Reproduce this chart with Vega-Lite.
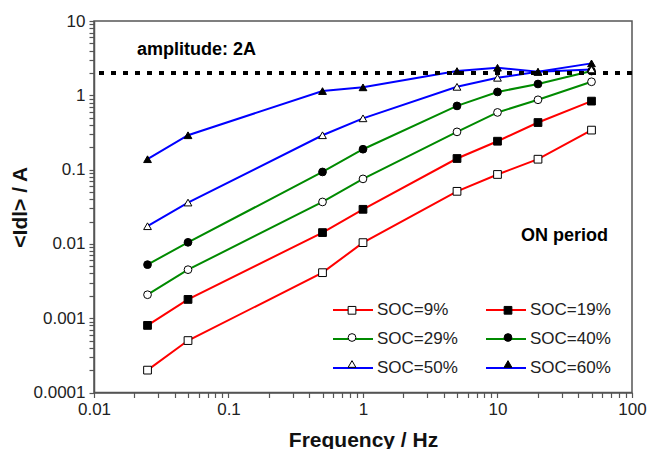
{
  "$schema": "https://vega.github.io/schema/vega-lite/v6.json",
  "width": 538,
  "height": 371.5,
  "autosize": {"type": "none"},
  "padding": {"left": 94, "top": 21, "right": 19, "bottom": 56.5},
  "background": "white",
  "config": {
    "font": "Liberation Sans",
    "view": {"stroke": "#555", "strokeWidth": 1.5},
    "axis": {
      "grid": false, "domainColor": "#555", "domainWidth": 1.5,
      "tickColor": "#555", "tickWidth": 1.2, "tickSize": 5,
      "labelFont": "Liberation Sans", "labelFontSize": 17, "labelColor": "#222",
      "labelFlush": false, "labelOverlap": false, "labelPadding": 4,
      "titleFont": "Liberation Sans", "titleFontSize": 21, "titleFontWeight": "bold", "titleColor": "#111"
    }
  },
  "data": {"values": [
    {"f": 0.025, "series": "SOC=9%", "symbol": "SOC=9%", "I": 0.0002},
    {"f": 0.05, "series": "SOC=9%", "symbol": "SOC=9%", "I": 0.0005},
    {"f": 0.5, "series": "SOC=9%", "symbol": "SOC=9%", "I": 0.0041},
    {"f": 1, "series": "SOC=9%", "symbol": "SOC=9%", "I": 0.0104},
    {"f": 5, "series": "SOC=9%", "symbol": "SOC=9%", "I": 0.051},
    {"f": 10, "series": "SOC=9%", "symbol": "SOC=9%", "I": 0.086},
    {"f": 20, "series": "SOC=9%", "symbol": "SOC=9%", "I": 0.138},
    {"f": 50, "series": "SOC=9%", "symbol": "SOC=9%", "I": 0.34},
    {"f": 0.025, "series": "SOC=19%", "symbol": "SOC=19%", "I": 0.0008},
    {"f": 0.05, "series": "SOC=19%", "symbol": "SOC=19%", "I": 0.00179},
    {"f": 0.5, "series": "SOC=19%", "symbol": "SOC=19%", "I": 0.0142},
    {"f": 1, "series": "SOC=19%", "symbol": "SOC=19%", "I": 0.0292},
    {"f": 5, "series": "SOC=19%", "symbol": "SOC=19%", "I": 0.141},
    {"f": 10, "series": "SOC=19%", "symbol": "SOC=19%", "I": 0.241},
    {"f": 20, "series": "SOC=19%", "symbol": "SOC=19%", "I": 0.43},
    {"f": 50, "series": "SOC=19%", "symbol": "SOC=19%", "I": 0.835},
    {"f": 0.025, "series": "SOC=29%", "symbol": "SOC=29%", "I": 0.00207},
    {"f": 0.05, "series": "SOC=29%", "symbol": "SOC=29%", "I": 0.0045},
    {"f": 0.5, "series": "SOC=29%", "symbol": "SOC=29%", "I": 0.0367},
    {"f": 1, "series": "SOC=29%", "symbol": "SOC=29%", "I": 0.075},
    {"f": 5, "series": "SOC=29%", "symbol": "SOC=29%", "I": 0.322},
    {"f": 10, "series": "SOC=29%", "symbol": "SOC=29%", "I": 0.588},
    {"f": 20, "series": "SOC=29%", "symbol": "SOC=29%", "I": 0.87},
    {"f": 50, "series": "SOC=29%", "symbol": "SOC=29%", "I": 1.52},
    {"f": 0.025, "series": "SOC=40%", "symbol": "SOC=40%", "I": 0.00526},
    {"f": 0.05, "series": "SOC=40%", "symbol": "SOC=40%", "I": 0.0105},
    {"f": 0.5, "series": "SOC=40%", "symbol": "SOC=40%", "I": 0.093},
    {"f": 1, "series": "SOC=40%", "symbol": "SOC=40%", "I": 0.188},
    {"f": 5, "series": "SOC=40%", "symbol": "SOC=40%", "I": 0.72},
    {"f": 10, "series": "SOC=40%", "symbol": "SOC=40%", "I": 1.11},
    {"f": 20, "series": "SOC=40%", "symbol": "SOC=40%", "I": 1.42},
    {"f": 50, "series": "SOC=40%", "symbol": "SOC=40%", "I": 2.12},
    {"f": 0.025, "series": "SOC=50%", "symbol": "SOC=50%", "I": 0.0173},
    {"f": 0.05, "series": "SOC=50%", "symbol": "SOC=50%", "I": 0.036},
    {"f": 0.5, "series": "SOC=50%", "symbol": "SOC=50%", "I": 0.29},
    {"f": 1, "series": "SOC=50%", "symbol": "SOC=50%", "I": 0.49},
    {"f": 5, "series": "SOC=50%", "symbol": "SOC=50%", "I": 1.3},
    {"f": 10, "series": "SOC=50%", "symbol": "SOC=50%", "I": 1.72},
    {"f": 20, "series": "SOC=50%", "symbol": "SOC=50%", "I": 2.07},
    {"f": 50, "series": "SOC=50%", "symbol": "SOC=50%", "I": 2.23},
    {"f": 0.025, "series": "SOC=60%", "symbol": "SOC=60%", "I": 0.138},
    {"f": 0.05, "series": "SOC=60%", "symbol": "SOC=60%", "I": 0.29},
    {"f": 0.5, "series": "SOC=60%", "symbol": "SOC=60%", "I": 1.14},
    {"f": 1, "series": "SOC=60%", "symbol": "SOC=60%", "I": 1.28},
    {"f": 5, "series": "SOC=60%", "symbol": "SOC=60%", "I": 2.12},
    {"f": 10, "series": "SOC=60%", "symbol": "SOC=60%", "I": 2.35},
    {"f": 20, "series": "SOC=60%", "symbol": "SOC=60%", "I": 2.07},
    {"f": 50, "series": "SOC=60%", "symbol": "SOC=60%", "I": 2.69}
  ]},
  "layer": [
    {
      "mark": {"type": "line", "strokeWidth": 2},
      "encoding": {
        "x": {"field": "f", "type": "quantitative",
          "scale": {"type": "log", "domain": [0.01, 100], "nice": false},
          "axis": {"title": "Frequency / Hz", "titleBaseline": "alphabetic", "titleY": 53.5,
            "values": [0.01,0.02,0.03,0.04,0.05,0.06,0.07,0.08,0.09,0.1,0.2,0.3,0.4,0.5,0.6,0.7,0.8,0.9,1,2,3,4,5,6,7,8,9,10,20,30,40,50,60,70,80,90,100],
            "labelExpr": "abs(log(datum.value)/LN10 - round(log(datum.value)/LN10)) < 1e-6 ? format(datum.value, '~g') : ''"}},
        "y": {"field": "I", "type": "quantitative",
          "scale": {"type": "log", "domain": [0.0001, 10], "nice": false},
          "axis": {"title": "<Idl> / A", "titleBaseline": "alphabetic", "titleX": -67.5,
            "values": [0.0001,0.0002,0.0003,0.0004,0.0005,0.0006,0.0007,0.0008,0.0009,0.001,0.002,0.003,0.004,0.005,0.006,0.007,0.008,0.009,0.01,0.02,0.03,0.04,0.05,0.06,0.07,0.08,0.09,0.1,0.2,0.3,0.4,0.5,0.6,0.7,0.8,0.9,1,2,3,4,5,6,7,8,9,10],
            "labelExpr": "abs(log(datum.value)/LN10 - round(log(datum.value)/LN10)) < 1e-6 ? format(datum.value, '~g') : ''"}},
        "color": {"field": "series", "type": "nominal",
          "scale": {"domain": ["SOC=9%","SOC=19%","SOC=29%","SOC=40%","SOC=50%","SOC=60%"],
            "range": ["#ff0000","#ff0000","#008a00","#008a00","#0000ff","#0000ff"]},
          "legend": {"title": null, "orient": "none", "direction": "horizontal", "legendX": 238, "legendY": 268, "columns": 2,
            "columnPadding": 24, "rowPadding": -4.5, "symbolType": "M-1,0H1", "symbolSize": 1600,
            "symbolStrokeWidth": 2, "labelFont": "Liberation Sans", "labelFontSize": 17,
            "labelOffset": 3, "labelColor": "#222"}},
        "order": {"field": "f", "type": "quantitative"}
      }
    },
    {
      "mark": {"type": "rule", "strokeDash": [5, 7], "strokeWidth": 2.6, "color": "black"},
      "encoding": {"y": {"datum": 2}}
    },
    {
      "mark": {"type": "point", "filled": true, "strokeWidth": 1, "opacity": 1},
      "encoding": {
        "x": {"field": "f", "type": "quantitative"},
        "y": {"field": "I", "type": "quantitative"},
        "shape": {"field": "symbol", "type": "nominal",
          "scale": {"domain": ["SOC=9%","SOC=19%","SOC=29%","SOC=40%","SOC=50%","SOC=60%","none"],
            "range": ["square","square","circle","circle","triangle-up","triangle-up","circle"]},
          "legend": {"title": null, "orient": "none", "direction": "horizontal", "legendX": 253.5, "legendY": 284.5, "columns": 2,
            "values": ["SOC=9%","SOC=19%","SOC=29%","SOC=40%","SOC=50%","SOC=60%"],
            "columnPadding": 143, "rowPadding": 14.5, "symbolStrokeWidth": 1,
            "labelFontSize": 1, "labelOffset": 0, "labelExpr": "''", "labelOpacity": 0}},
        "fill": {"field": "symbol", "type": "nominal",
          "scale": {"domain": ["SOC=9%","SOC=19%","SOC=29%","SOC=40%","SOC=50%","SOC=60%","none"],
            "range": ["white","black","white","black","white","black","white"]},
          "legend": {"title": null, "orient": "none", "direction": "horizontal", "legendX": 253.5, "legendY": 284.5, "columns": 2,
            "values": ["SOC=9%","SOC=19%","SOC=29%","SOC=40%","SOC=50%","SOC=60%"],
            "columnPadding": 143, "rowPadding": 14.5, "symbolStrokeWidth": 1,
            "labelFontSize": 1, "labelOffset": 0, "labelExpr": "''", "labelOpacity": 0}},
        "stroke": {"field": "symbol", "type": "nominal",
          "scale": {"domain": ["SOC=9%","SOC=19%","SOC=29%","SOC=40%","SOC=50%","SOC=60%","none"],
            "range": ["black","black","black","black","black","black","black"]},
          "legend": {"title": null, "orient": "none", "direction": "horizontal", "legendX": 253.5, "legendY": 284.5, "columns": 2,
            "values": ["SOC=9%","SOC=19%","SOC=29%","SOC=40%","SOC=50%","SOC=60%"],
            "columnPadding": 143, "rowPadding": 14.5, "symbolStrokeWidth": 1,
            "labelFontSize": 1, "labelOffset": 0, "labelExpr": "''", "labelOpacity": 0}},
        "size": {"field": "symbol", "type": "nominal",
          "scale": {"domain": ["SOC=9%","SOC=19%","SOC=29%","SOC=40%","SOC=50%","SOC=60%","none"],
            "range": [60, 60, 48, 48, 90, 90, 48]},
          "legend": {"title": null, "orient": "none", "direction": "horizontal", "legendX": 253.5, "legendY": 284.5, "columns": 2,
            "values": ["SOC=9%","SOC=19%","SOC=29%","SOC=40%","SOC=50%","SOC=60%"],
            "columnPadding": 143, "rowPadding": 14.5, "symbolStrokeWidth": 1,
            "labelFontSize": 1, "labelOffset": 0, "labelExpr": "''", "labelOpacity": 0}}
      }
    },
    {
      "data": {"values": [
        {"f": 0.0209, "I": 3.48, "note": "amplitude: 2A"}
      ]},
      "mark": {"type": "text", "align": "left", "baseline": "alphabetic", "fontWeight": "bold", "fontSize": 18, "color": "black", "font": "Liberation Sans"},
      "encoding": {
        "x": {"field": "f", "type": "quantitative"},
        "y": {"field": "I", "type": "quantitative"},
        "text": {"field": "note"}
      }
    },
    {
      "data": {"values": [
        {"f": 66.3, "I": 0.0108, "note": "ON period"}
      ]},
      "mark": {"type": "text", "align": "right", "baseline": "alphabetic", "fontWeight": "bold", "fontSize": 18, "color": "black", "font": "Liberation Sans"},
      "encoding": {
        "x": {"field": "f", "type": "quantitative"},
        "y": {"field": "I", "type": "quantitative"},
        "text": {"field": "note"}
      }
    }
  ]
}
